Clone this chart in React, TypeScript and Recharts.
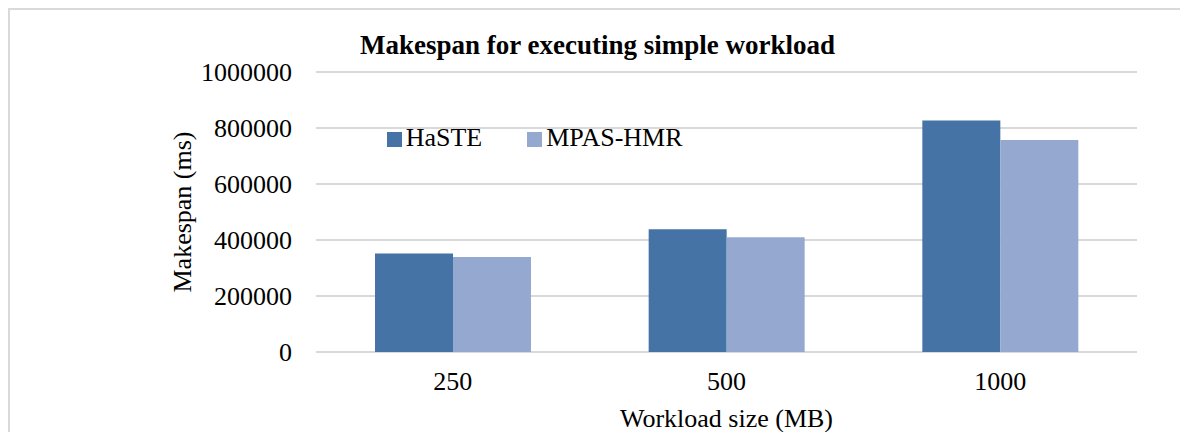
import React from 'react';
import { BarChart, Bar, XAxis, YAxis, CartesianGrid, Legend, Label } from 'recharts';

const categories = ['250', '500', '1000'];
const hasteValues = [352000, 438000, 827000];
const mpasValues = [339000, 410000, 757000];
const yTicks = [0, 200000, 400000, 600000, 800000, 1000000];

const data = categories.map((c, i) => ({
  size: c,
  HaSTE: hasteValues[i],
  'MPAS-HMR': mpasValues[i],
}));

const FONT = '"Liberation Serif", "Times New Roman", serif';

function LegendContent(props: any) {
  const payload = props.payload || [];
  return (
    <div
      style={{
        display: 'flex',
        alignItems: 'center',
        fontFamily: FONT,
        fontSize: 26,
        lineHeight: '26px',
        color: '#000',
        whiteSpace: 'nowrap',
      }}
    >
      {payload.map((p: any, i: number) => (
        <div key={i} style={{ display: 'flex', alignItems: 'center', marginRight: i === 0 ? 45 : 0 }}>
          <span
            style={{
              display: 'inline-block',
              width: 15,
              height: 15,
              background: p.color,
              marginRight: 4,
              position: 'relative',
              top: 1.5,
            }}
          />
          <span>{p.value}</span>
        </div>
      ))}
    </div>
  );
}

export default function App() {
  const tickStyle = { fontFamily: FONT, fontSize: 26, fill: '#000' };
  return (
    <div
      style={{
        position: 'relative',
        marginLeft: 8,
        marginTop: 8,
        width: 1172,
        height: 424,
        borderTop: '2px solid #d9d9d9',
        borderLeft: '2px solid #d9d9d9',
        boxSizing: 'border-box',
        background: '#fff',
        overflow: 'hidden',
      }}
    >
      <style>{'html,body{margin:0;padding:0;overflow:hidden;background:#fff;}'}</style>
      <div
        style={{
          position: 'absolute',
          left: 287.5,
          top: 22.4,
          width: 600,
          textAlign: 'center',
          fontFamily: FONT,
          fontWeight: 'bold',
          fontSize: 27,
          lineHeight: '27px',
          color: '#000',
          whiteSpace: 'nowrap',
          zIndex: 2,
        }}
      >
        Makespan for executing simple workload
      </div>
      <BarChart
        width={1170}
        height={422}
        data={data}
        margin={{ top: 62, right: 43, bottom: 0, left: 0 }}
        barCategoryGap={59}
        barGap={0}
      >
        <CartesianGrid vertical={false} stroke="#d9d9d9" strokeWidth={2} />
        <XAxis
          dataKey="size"
          axisLine={false}
          tickLine={false}
          tickSize={0}
          tickMargin={20}
          height={80}
          tick={tickStyle}
          interval={0}
        >
          <Label
            value="Workload size (MB)"
            position="insideBottom"
            offset={5}
            fontFamily={FONT}
            fontSize={26}
            fill="#000"
          />
        </XAxis>
        <YAxis
          domain={[0, 1000000]}
          ticks={yTicks}
          axisLine={false}
          tickLine={false}
          tickSize={0}
          tickMargin={24}
          width={306}
          tick={tickStyle}
          interval={0}
        >
          <Label
            value="Makespan (ms)"
            angle={-90}
            position="insideLeft"
            offset={172}
            fontFamily={FONT}
            fontSize={26}
            fill="#000"
            style={{ textAnchor: 'middle' }}
          />
        </YAxis>
        <Legend
          layout="horizontal"
          verticalAlign="middle"
          align="center"
          content={<LegendContent />}
          wrapperStyle={{ left: 376.7, top: 114.9, width: 'auto', height: 'auto' }}
        />
        <Bar dataKey="HaSTE" fill="#4573A6" isAnimationActive={false} />
        <Bar dataKey="MPAS-HMR" fill="#95A9D0" isAnimationActive={false} />
      </BarChart>
    </div>
  );
}
